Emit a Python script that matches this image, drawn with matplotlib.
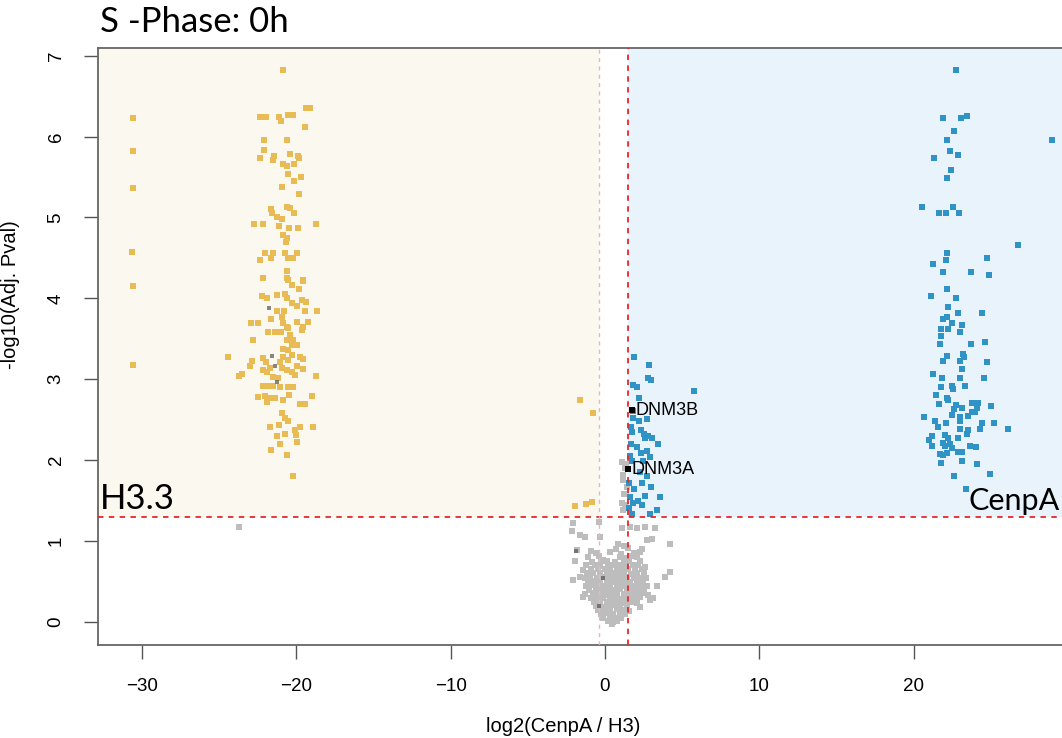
import matplotlib
matplotlib.use("Agg")
import matplotlib.pyplot as plt
from matplotlib.patches import Rectangle

# ---- data -----------------------------------------------------------------
# enriched in H3.3 (left, significant)
h33_x = [-30.62, -30.58, -30.57, -30.63, -30.58, -30.62,
         -20.87, -19.38, -19.12, -22.36, -21.97, -21.11, -21.00, -20.56, -20.22,
         -19.46, -22.10, -20.63, -22.12, -22.38, -21.45, -21.54, -20.41, -19.88,
         -19.83, -20.85, -20.63, -20.16, -20.52, -19.72, -20.17, -20.95, -19.85,
         -21.67, -21.56, -20.63, -20.41, -20.16, -21.24, -20.95, -22.73, -22.15,
         -21.15, -20.50, -19.92, -18.71, -20.85, -20.63, -20.67, -22.03, -21.49,
         -22.35, -21.66, -20.72, -19.96, -20.52, -20.24, -20.61, -22.18, -20.61,
         -19.57, -20.52, -20.30, -19.55, -19.81, -22.25, -21.92, -21.28, -20.74,
         -20.63, -21.28, -20.81, -20.30, -19.98, -19.66, -19.38, -19.44, -18.65,
         -21.67, -22.96, -22.47, -20.95, -20.85, -20.63, -19.94, -19.23, -19.55,
         -19.66, -21.86, -21.39, -21.00, -20.52, -20.41, -22.79, -20.63, -20.20,
         -20.30, -20.85, -20.52, -19.98, -24.41, -22.85, -23.03, -22.15, -21.97,
         -22.18, -21.71, -21.06, -20.85, -20.52, -20.30, -19.77, -19.55, -20.95,
         -20.63, -19.98, -19.55, -23.73, -23.51, -21.92, -21.49, -21.17, -20.30,
         -20.09, -18.76, -21.49, -21.06, -20.52, -20.20, -22.18, -21.92, -22.47,
         -22.03, -21.92, -21.71, -21.39, -20.85, -20.46, -19.77, -19.44, -19.01,
         -20.95, -20.74, -20.52, -21.71, -21.11, -20.74, -21.24, -20.09, -19.77,
         -20.03, -18.92, -21.06, -19.94, -21.67, -20.63, -20.20,
         -1.60, -0.76, -1.94, -1.23, -0.86]
h33_y = [6.23, 5.82, 5.36, 4.57, 4.15, 3.18,
         6.82, 6.35, 6.35, 6.24, 6.24, 6.24, 6.19, 6.27, 6.27,
         6.12, 5.96, 5.96, 5.83, 5.73, 5.76, 5.71, 5.78, 5.76,
         5.73, 5.66, 5.64, 5.66, 5.54, 5.50, 5.45, 5.38, 5.29,
         5.11, 5.05, 5.13, 5.12, 5.05, 5.01, 4.98, 4.92, 4.92,
         4.89, 4.87, 4.87, 4.92, 4.78, 4.75, 4.70, 4.56, 4.56,
         4.47, 4.50, 4.56, 4.56, 4.50, 4.50, 4.34, 4.25, 4.25,
         4.23, 4.23, 4.17, 4.22, 4.12, 4.03, 4.01, 4.04, 4.06,
         4.00, 3.85, 3.85, 3.94, 3.91, 3.98, 3.96, 3.85, 3.85,
         3.75, 3.70, 3.70, 3.77, 3.69, 3.65, 3.71, 3.71, 3.65,
         3.61, 3.58, 3.58, 3.58, 3.63, 3.55, 3.48, 3.49, 3.49,
         3.42, 3.38, 3.36, 3.42, 3.27, 3.23, 3.17, 3.26, 3.22,
         3.11, 3.14, 3.22, 3.28, 3.24, 3.30, 3.27, 3.25, 3.14,
         3.11, 3.16, 3.13, 3.04, 3.07, 3.09, 3.03, 3.01, 3.09,
         3.05, 3.04, 2.92, 2.90, 2.91, 2.90, 2.92, 2.92, 2.78,
         2.79, 2.72, 2.77, 2.77, 2.74, 2.81, 2.70, 2.70, 2.79,
         2.58, 2.52, 2.48, 2.41, 2.44, 2.33, 2.30, 2.37, 2.41,
         2.31, 2.41, 2.20, 2.22, 2.13, 2.06, 1.80,
         2.74, 2.58, 1.44, 1.46, 1.48]

# enriched in CenpA (right, significant)
cenpa_x = [22.75, 21.89, 23.09, 23.48, 22.62, 29.00, 22.15, 22.36, 22.86, 21.30,
           22.40, 22.15, 20.56, 21.65, 22.12, 22.53, 22.92, 26.79, 22.16, 22.12,
           21.24, 21.89, 24.78, 23.72, 24.91, 22.15, 21.15, 22.77, 22.21, 22.86,
           24.41, 21.89, 22.15, 22.47, 23.12, 23.01, 21.76, 22.25, 21.76, 21.71,
           23.70, 24.63, 22.15, 21.93, 23.22, 23.01, 23.27, 24.78, 23.12, 21.28,
           21.82, 23.01, 24.57, 21.76, 22.47, 22.57, 23.33, 21.45, 22.15, 21.67,
           22.25, 22.75, 23.12, 22.62, 23.77, 24.19, 24.09, 23.98, 25.02, 20.67,
           21.39, 21.60, 22.10, 22.47, 23.01, 23.01, 23.55, 23.77, 24.41, 24.30,
           25.21, 26.14, 23.55, 23.44, 23.01, 21.21, 21.02, 21.17, 22.03, 22.25,
           21.89, 22.90, 22.36, 22.03, 22.47, 21.71, 21.93, 22.15, 22.90, 23.12,
           23.66, 24.02, 21.76, 23.12, 24.09, 24.95, 22.62, 23.40,
           1.90, 2.87, 2.81, 2.96, 1.83, 2.05, 5.79, 2.22, 1.80, 1.83,
           2.22, 2.70, 1.67, 1.73, 2.33, 2.53, 2.81, 3.03, 2.59, 3.45,
           2.09, 2.31, 2.70, 2.92, 1.73, 2.44, 2.27, 2.70, 2.38, 2.98,
           1.90, 3.56, 2.59, 1.83, 2.16, 2.38, 3.35, 2.92, 1.73, 1.56,
           1.62, 1.58, 1.66, 1.60]
cenpa_y = [6.82, 6.23, 6.23, 6.26, 6.07, 5.96, 5.96, 5.82, 5.77, 5.73,
           5.59, 5.49, 5.13, 5.05, 5.05, 5.13, 5.05, 4.66, 4.56, 4.47,
           4.43, 4.33, 4.50, 4.33, 4.29, 4.12, 4.03, 4.01, 3.89, 3.82,
           3.82, 3.74, 3.77, 3.70, 3.67, 3.58, 3.62, 3.62, 3.53, 3.44,
           3.44, 3.46, 3.29, 3.23, 3.31, 3.23, 3.28, 3.21, 3.13, 3.06,
           3.02, 3.02, 3.02, 2.90, 2.92, 2.88, 2.92, 2.81, 2.77, 2.70,
           2.74, 2.68, 2.64, 2.63, 2.71, 2.71, 2.64, 2.59, 2.67, 2.53,
           2.48, 2.41, 2.46, 2.56, 2.54, 2.48, 2.55, 2.59, 2.46, 2.39,
           2.46, 2.39, 2.37, 2.32, 2.39, 2.30, 2.25, 2.17, 2.31, 2.27,
           2.21, 2.27, 2.20, 2.17, 2.15, 2.08, 2.06, 2.09, 2.10, 2.10,
           2.17, 2.16, 1.97, 1.99, 1.95, 1.83, 1.81, 1.64,
           3.27, 3.18, 3.02, 2.99, 2.93, 2.91, 2.86, 2.77, 2.61, 2.52,
           2.48, 2.51, 2.41, 2.35, 2.37, 2.33, 2.30, 2.27, 2.28, 2.20,
           2.16, 2.09, 2.11, 2.04, 1.99, 1.99, 1.86, 1.80, 1.72, 1.67,
           1.65, 1.54, 1.56, 1.47, 1.49, 1.45, 1.39, 1.34, 1.34, 1.41,
           2.05, 1.72, 2.20, 1.55]

# not significant
ns_x = [-23.75,
        1.30, 1.19, 1.15, 1.41, 1.08, 1.30, 1.19, 1.12, 1.25, 1.35,
        -0.37, -2.05, -2.16, -1.62, -1.30, -0.32, 1.08, 1.62, 2.05, 2.59, 3.24,
        3.03, 2.70, 4.21, 0.85, 1.20,
        -1.83, -0.93, 0.70, 1.50, 2.40, -0.60, 0.30, 1.05, 1.90, 2.25,
        -1.10, -0.40, -0.11, 0.95, 1.35, 1.75, 2.10,
        -1.94, -0.85, -0.25, 0.12, 0.62, 1.20, 1.58, 2.30,
        -1.20, -0.62, -0.30, 0.22, 0.55, 0.92, 1.30, 1.80, 2.15, 2.60,
        -1.41, -0.90, -0.45, 0.02, 0.35, 0.75, 1.10, 1.52, 1.95, 2.40,
        -1.62, -1.18, -0.75, -0.35, 0.10, 0.50, 0.85, 1.25, 1.70, 2.08, 2.55, 4.21,
        -1.30, -0.95, -0.55, -0.15, 0.25, 0.65, 1.05, 1.45, 1.85, 2.30, 2.65, 3.89,
        -2.05, -1.10, -0.70, -0.30, 0.10, 0.45, 0.85, 1.25, 1.65, 2.05, 2.45,
        -1.25, -0.85, -0.45, -0.05, 0.35, 0.75, 1.15, 1.55, 1.95, 2.35, 2.70, 3.35,
        -1.05, -0.60, -0.20, 0.20, 0.60, 1.00, 1.40, 1.80, 2.20, 2.55,
        -1.30, -0.80, -0.40, 0.00, 0.40, 0.80, 1.20, 1.60, 2.00, 2.40, 2.80,
        -1.41, -0.90, -0.50, -0.10, 0.30, 0.70, 1.10, 1.50, 1.90, 2.30, 2.92, 3.10,
        -0.70, -0.30, 0.10, 0.50, 0.90, 1.30, 1.70, 2.10,
        -0.60, -0.20, 0.20, 0.60, 1.00, 1.40, 2.27,
        -0.45, -0.05, 0.35, 0.75, 1.15, 1.55,
        -0.25, 0.15, 0.55, 0.95, 1.30,
        -0.10, 0.30, 0.70, 1.05,
        0.20, 0.50, 0.80, 0.45]
ns_y = [1.17,
        1.90, 1.82, 1.75, 1.67, 1.47, 1.45, 1.38, 1.98, 1.58, 1.95,
        1.24, 1.22, 1.12, 1.08, 1.05, 1.05, 1.16, 1.18, 1.16, 1.18, 1.16,
        1.03, 1.01, 0.97, 0.96, 0.94,
        0.89, 0.88, 0.90, 0.91, 0.90, 0.85, 0.86, 0.84, 0.85, 0.86,
        0.80, 0.81, 0.77, 0.80, 0.79, 0.81, 0.80,
        0.75, 0.74, 0.75, 0.76, 0.74, 0.75, 0.76, 0.75,
        0.70, 0.71, 0.69, 0.70, 0.71, 0.70, 0.69, 0.71, 0.70, 0.68,
        0.64, 0.65, 0.66, 0.65, 0.64, 0.65, 0.66, 0.65, 0.64, 0.66,
        0.56, 0.60, 0.61, 0.60, 0.59, 0.60, 0.61, 0.60, 0.59, 0.60, 0.61, 0.62,
        0.55, 0.54, 0.55, 0.56, 0.55, 0.54, 0.55, 0.56, 0.55, 0.54, 0.55, 0.56,
        0.52, 0.50, 0.51, 0.50, 0.49, 0.50, 0.51, 0.50, 0.49, 0.50, 0.51,
        0.45, 0.46, 0.45, 0.44, 0.45, 0.46, 0.45, 0.44, 0.45, 0.46, 0.44, 0.44,
        0.40, 0.41, 0.40, 0.39, 0.40, 0.41, 0.40, 0.39, 0.40, 0.41,
        0.35, 0.36, 0.35, 0.34, 0.35, 0.36, 0.35, 0.34, 0.35, 0.36, 0.34,
        0.31, 0.30, 0.29, 0.30, 0.31, 0.30, 0.29, 0.30, 0.31, 0.31, 0.27, 0.30,
        0.25, 0.24, 0.25, 0.26, 0.25, 0.24, 0.25, 0.24,
        0.20, 0.19, 0.20, 0.21, 0.20, 0.19, 0.19,
        0.15, 0.14, 0.15, 0.16, 0.15, 0.14,
        0.10, 0.11, 0.10, 0.09, 0.10,
        0.05, 0.06, 0.05, 0.05,
        0.01, 0.00, 0.01, -0.03]

# highlighted (unlabelled) proteins
mark_x = [-21.76, -21.60, -21.39, -21.28, -1.88, -0.11, -0.37]
mark_y = [3.88, 3.29, 3.16, 2.97, 0.88, 0.54, 0.20]

# labelled proteins
gene_names = ["DNM3B", "DNM3A"]
gene_x = [1.73, 1.47]
gene_y = [2.62, 1.89]

fc_low, fc_high = -0.42, 1.52      # log2 ratio cut-offs
p_cut = 1.30                        # -log10(0.05)
x_ticks = [-30, -20, -10, 0, 10, 20]
y_ticks = [0, 1, 2, 3, 4, 5, 6, 7]

# ---- figure ---------------------------------------------------------------
W, H = 1062, 738
fig = plt.figure(figsize=(W / 100, H / 100), dpi=100)
ax = fig.add_axes([98 / W, 93 / H, 964 / W, 597 / H])
xmin, xmax = -32.86, 29.62
ymin, ymax = -0.284, 7.095
ax.set_xlim(xmin, xmax)
ax.set_ylim(ymin, ymax)

yellow_bg = "#fbf8ef"
blue_bg = "#e8f3fb"
ax.add_patch(Rectangle((xmin, p_cut), fc_low - xmin, ymax - p_cut,
                       facecolor=yellow_bg, edgecolor="none", zorder=0))
ax.add_patch(Rectangle((fc_high, p_cut), xmax - fc_high, ymax - p_cut,
                       facecolor=blue_bg, edgecolor="none", zorder=0))

ms = 24
ax.scatter(ns_x, ns_y, s=ms, marker="s", color="#bdbdbd", linewidths=0, zorder=2)
ax.scatter(h33_x, h33_y, s=ms, marker="s", color="#e8bb55", linewidths=0, zorder=3)
ax.scatter(cenpa_x, cenpa_y, s=ms, marker="s", color="#2f93c6", linewidths=0, zorder=3)
ax.scatter(mark_x, mark_y, s=9, marker="s", color="#555555", alpha=0.7,
           linewidths=0, zorder=4)
ax.scatter(gene_x, gene_y, s=16, marker="s", color="black", linewidths=0, zorder=6)
for name, gx, gy in zip(gene_names, gene_x, gene_y):
    ax.text(gx + 0.25, gy, name, fontsize=13, family="Liberation Sans",
            ha="left", va="center", zorder=6)

ax.axhline(p_cut, color="#e8262a", lw=1.3, ls=(0, (3, 3)), zorder=5)
ax.axvline(fc_high, color="#e8262a", lw=1.3, ls=(0, (3, 3)), zorder=5)
ax.axvline(fc_low, color="#f4b3b3", lw=1.0, ls=(0, (3, 3)), zorder=5)

ax.text(xmin + 0.15, p_cut + 0.02, "H3.3", fontsize=25, family="Lato",
        ha="left", va="bottom", zorder=7)
ax.text(29.45, p_cut + 0.02, "CenpA", fontsize=22, family="Lato",
        ha="right", va="bottom", zorder=7)

ax.set_xticks(x_ticks)
ax.set_yticks(y_ticks)
ax.set_xticklabels([str(t).replace("-", "\u2212") for t in x_ticks])
ax.set_yticklabels([str(t) for t in y_ticks], rotation=90, va="center")
ax.tick_params(axis="both", direction="out", length=10, width=1.0,
               color="#555555", pad=14, labelsize=13.5)
for lab in ax.get_xticklabels() + ax.get_yticklabels():
    lab.set_family("Liberation Sans")

for side in ["left", "bottom", "top"]:
    ax.spines[side].set_color("#666666")
    ax.spines[side].set_linewidth(1.3)
ax.spines["right"].set_visible(False)

ax.set_xlabel("log2(CenpA / H3)", fontsize=14.5, family="Liberation Sans")
ax.set_ylabel("-log10(Adj. Pval)", fontsize=14.5, family="Liberation Sans")
ax.xaxis.set_label_coords((563 - 98) / 964, -(717 - 645) / 597)
ax.yaxis.set_label_coords(-(98 - 20) / 964, (645 - 295) / 597)

fig.text(100 / W, 1 - 22 / H, "S -Phase: 0h", fontsize=25, family="Lato",
         ha="left", va="center")

fig.savefig("out.png", dpi=100)
